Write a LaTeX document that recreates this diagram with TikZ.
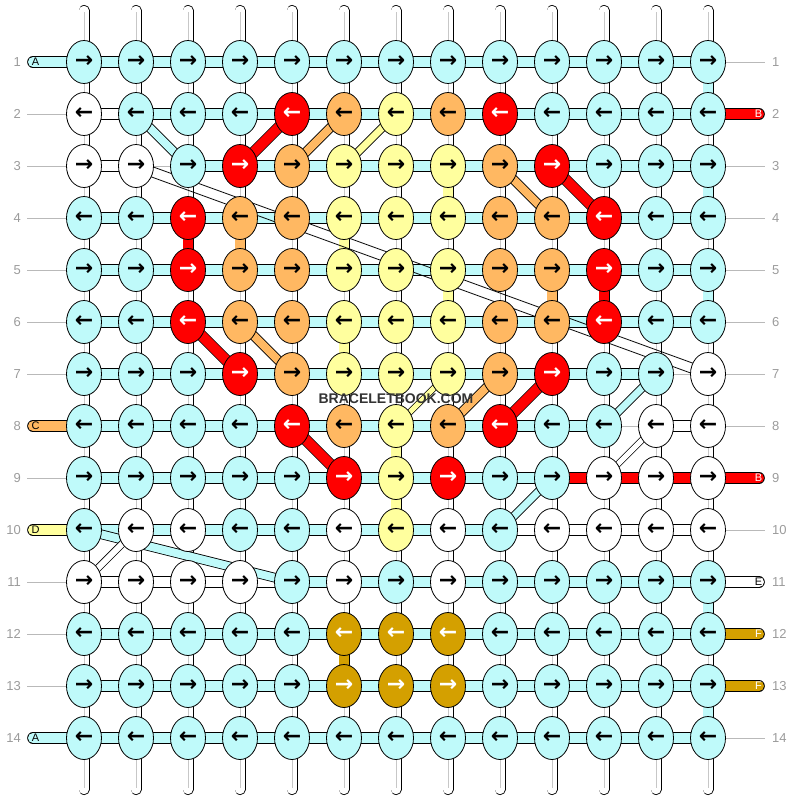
\documentclass[tikz,border=0pt]{standalone}
\usepackage{fontspec}
\setmainfont{Liberation Sans}
\newfontfamily\arrowfont{DejaVu Sans}
\usetikzlibrary{shapes.geometric,calc}

\definecolor{bbcyan}{RGB}{191,250,250}
\definecolor{bbred}{RGB}{255,0,0}
\definecolor{bborange}{RGB}{255,184,98}
\definecolor{bbyellow}{RGB}{255,255,158}
\definecolor{bbgold}{RGB}{212,160,0}
\definecolor{bbgrey}{RGB}{155,155,155}
\definecolor{bbtext}{RGB}{51,51,51}

\pgfdeclarelayer{rowlines}
\pgfdeclarelayer{warps}
\pgfdeclarelayer{strings}
\pgfsetlayers{rowlines,warps,strings,main}

\tikzset{
  knot/.style={ellipse, draw, line width=0.8pt, minimum width=35pt,
    minimum height=43pt, inner sep=0pt,
    font=\arrowfont\bfseries\fontsize{22}{22}\selectfont},
  kc/.style={fill=bbcyan},
  kw/.style={fill=white},
  kr/.style={fill=bbred, text=white},
  ko/.style={fill=bborange},
  ky/.style={fill=bbyellow},
  kg/.style={fill=bbgold, text=white},
  thread/.style={line width=0.8pt, double=#1, double distance=10pt},
  bc/.style={thread=bbcyan},
  bw/.style={thread=white},
  br/.style={thread=bbred},
  bn/.style={draw opacity=0},
  tail/.style={thread=#1, line cap=round},
  warp/.style={line width=0.8pt, double=white, double distance=9.4pt, line cap=round},
  warpcore/.style={draw=black!22, line width=1pt, shorten <=2pt, shorten >=2pt},
  rowline/.style={draw=bbgrey!70, line width=0.8pt, shorten <=6pt, shorten >=7pt},
  rowno/.style={text=bbgrey, inner sep=0pt, font=\fontsize{13}{13}\selectfont},
  tailno/.style={inner sep=0pt, font=\fontsize{11}{11}\selectfont},
}

\begin{document}
\begin{tikzpicture}[x=1pt,y=-1pt]
\useasboundingbox (0,0) rectangle (792,800);

% knots and weft bars, row by row
\foreach \r/\knots/\bars in {
  1/{c,c,c,c,c,c,c,c,c,c,c,c,c}/{c,c,c,c,c,c,c,c,c,c,c,c},
  2/{w,c,c,c,r,o,y,o,r,c,c,c,c}/{w,c,c,c,c,c,c,c,c,c,c,c},
  3/{w,w,c,r,o,y,y,y,o,r,c,c,c}/{w,n,c,c,c,c,c,c,c,c,c,c},
  4/{c,c,r,o,o,y,y,y,o,o,r,c,c}/{c,c,c,c,c,c,c,c,c,c,c,c},
  5/{c,c,r,o,o,y,y,y,o,o,r,c,c}/{c,c,c,c,c,c,c,c,c,c,c,c},
  6/{c,c,r,o,o,y,y,y,o,o,r,c,c}/{c,c,c,c,c,c,c,c,c,c,c,c},
  7/{c,c,c,r,o,y,y,y,o,r,c,c,w}/{c,c,c,c,c,c,c,c,c,c,c,n},
  8/{c,c,c,c,r,o,y,o,r,c,c,w,w}/{c,c,c,c,c,c,c,c,c,c,n,w},
  9/{c,c,c,c,c,r,y,r,c,c,w,w,w}/{c,c,c,c,c,c,c,c,c,r,r,r},
  10/{c,w,w,c,c,w,y,w,c,w,w,w,w}/{c,c,c,c,c,c,c,c,w,w,w,w},
  11/{w,w,w,w,c,w,c,w,c,c,c,c,c}/{w,w,w,w,c,c,c,c,c,c,c,c},
  12/{c,c,c,c,c,g,g,g,c,c,c,c,c}/{c,c,c,c,c,c,c,c,c,c,c,c},
  13/{c,c,c,c,c,g,g,g,c,c,c,c,c}/{c,c,c,c,c,c,c,c,c,c,c,c},
  14/{c,c,c,c,c,c,c,c,c,c,c,c,c}/{c,c,c,c,c,c,c,c,c,c,c,c}}{
  \ifodd\r \def\dir{→}\else \def\dir{←}\fi
  \foreach \k [count=\c] in \knots
    \node[knot, k\k] (k-\r-\c) at ({32+52*\c},{10+52*\r}) {\dir};
  \begin{pgfonlayer}{strings}
  \foreach \b [count=\c] in \bars{
    \pgfmathtruncatemacro\d{\c+1}
    \draw[b\b] (k-\r-\c.center) -- (k-\r-\d.center);
  }
  \end{pgfonlayer}
  % row numbers
  \node[rowno, anchor=east] (nl-\r) at (21,{10+52*\r}) {\r};
  \node[rowno, anchor=west] (nr-\r) at (772,{10+52*\r}) {\r};
  \begin{pgfonlayer}{rowlines}
  \draw[rowline] (nl-\r.east) -- (nr-\r.west);
  \end{pgfonlayer}
}

% warp strings
\foreach \c in {1,...,13}{
  \coordinate (wt-\c) at ({32+52*\c},10.5);
  \coordinate (wb-\c) at ({32+52*\c},789.5);
  \begin{pgfonlayer}{warps}
  \draw[warp] (wt-\c) -- (wb-\c);
  \draw[warpcore] (wt-\c) -- (wb-\c);
  \end{pgfonlayer}
}

\begin{pgfonlayer}{strings}
% coloured turns between rows
\foreach \r/\c/\col in {1/13/bbcyan, 3/13/bbcyan, 5/13/bbcyan, 11/13/bbcyan, 13/13/bbcyan,
  3/8/bbyellow, 5/8/bbyellow, 4/6/bbyellow, 6/6/bbyellow, 12/6/bbgold,
  4/3/bbred, 4/4/bborange, 5/10/bborange, 5/11/bbred, 8/7/bbyellow, 9/7/bbyellow}{
  \pgfmathtruncatemacro\s{\r+1}
  \draw[thread=\col, double distance=9.4pt] (k-\r-\c.center) -- (k-\s-\c.center);
}

% loose ends
\foreach \r/\col/\lab/\txt in {1/bbcyan/A/black, 8/bborange/C/black,
  10/bbyellow/D/black, 14/bbcyan/A/black}{
  \coordinate (te-\r) at (33,{10+52*\r});
  \draw[tail=\col] (te-\r) -- (k-\r-1.center);
  \node[tailno, text=\txt] (tn-\r) at (35.5,{10+52*\r}) {\lab};
}
\foreach \r/\col/\lab/\txt in {2/bbred/B/white, 9/bbred/B/white, 11/white/E/black,
  12/bbgold/F/white, 13/bbgold/F/white}{
  \coordinate (te-\r) at (759,{10+52*\r});
  \draw[tail=\col] (k-\r-13.center) -- (te-\r);
  \node[tailno, text=\txt] (tn-\r) at (758.5,{10+52*\r}) {\lab};
}

% strings changing place
\foreach \a/\b/\col/\w in {2-2/3-3/bbcyan/8, 2-5/3-4/bbred/10, 2-6/3-5/bborange/8,
  2-7/3-6/bbyellow/7, 3-9/4-10/bborange/8, 3-10/4-11/bbred/10, 6-3/7-4/bbred/10,
  6-4/7-5/bborange/8, 7-8/8-7/bbyellow/5, 7-9/8-8/bborange/8, 7-10/8-9/bbred/10,
  8-5/9-6/bbred/10, 7-12/8-11/bbcyan/7, 8-12/9-11/white/5, 9-10/10-9/bbcyan/7,
  10-1/11-5/bbcyan/8, 10-2/11-1/white/6}
  \draw[thread=\col, double distance=\w pt] (k-\a.center) -- (k-\b.center);
\draw[line width=0.8pt] ($(k-3-2)!5pt!90:(k-7-13)$) -- ($(k-7-13)!5pt!-90:(k-3-2)$);
\draw[line width=0.8pt] ($(k-3-2)!5pt!-90:(k-7-13)$) -- ($(k-7-13)!5pt!90:(k-3-2)$);
\end{pgfonlayer}

\node[text=bbtext, font=\bfseries\fontsize{14}{14}\selectfont] (logo) at (396,399) {BRACELETBOOK.COM};
\end{tikzpicture}
\end{document}
